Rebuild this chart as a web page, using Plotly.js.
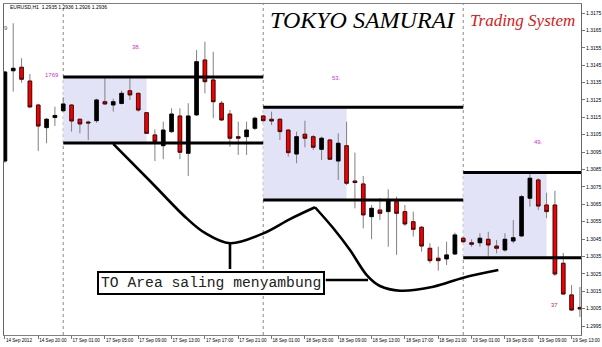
<!DOCTYPE html>
<html><head><meta charset="utf-8">
<script src="https://cdn.plot.ly/plotly-3.0.1.min.js"></script>
<style>html,body{margin:0;padding:0;background:#fff;}#chart{width:602px;height:347px;}</style>
</head><body><div id="chart"></div>
<script>
// EURUSD H1 candles, 14 Sep 2012 16:00 .. 19 Sep 2012 14:00 (one bar per hour, index = bar number)
const opens  = [1.30899,1.31418,1.31438,1.31359,1.31221,1.31091,1.31149,1.31188,1.31221,1.31139,
                1.31123,1.31131,1.31240,1.31221,1.31230,1.31303,1.31288,1.31177,1.31049,1.30987,
                1.31068,1.31158,1.30943,1.31164,1.31480,1.31365,1.31231,1.31169,1.31039,1.31039,
                1.31087,1.31158,1.31139,1.31139,1.31077,1.30939,1.31053,1.31039,1.30966,1.31020,
                1.30899,1.30987,1.30784,1.30767,1.30579,1.30617,1.30608,1.30665,1.30608,1.30550,
                1.30518,1.30397,1.30340,1.30336,1.30364,1.30455,1.30429,1.30429,1.30449,1.30410,
                1.30387,1.30439,1.30468,1.30685,1.30790,1.30646,1.30646,1.30311,1.30129,1.30057];
const highs  = [1.31417,1.31691,1.31490,1.31399,1.31227,1.31146,1.31211,1.31265,1.31227,1.31143,
                1.31131,1.31257,1.31375,1.31257,1.31303,1.31375,1.31293,1.31181,1.31081,1.31125,
                1.31202,1.31202,1.31231,1.31537,1.31585,1.31527,1.31244,1.31192,1.31125,1.31125,
                1.31154,1.31164,1.31183,1.31145,1.31081,1.31068,1.31131,1.31049,1.31039,1.31026,
                1.31058,1.31125,1.30947,1.30813,1.30646,1.30686,1.30736,1.30694,1.30646,1.30608,
                1.30525,1.30426,1.30406,1.30435,1.30487,1.30464,1.30449,1.30483,1.30492,1.30445,
                1.30483,1.30560,1.30704,1.30828,1.30800,1.30717,1.30728,1.30370,1.30186,1.30175];
const lows   = [1.30888,1.31298,1.31349,1.31204,1.30957,1.31001,1.31100,1.31181,1.31068,1.31058,
                1.31020,1.31118,1.31221,1.31183,1.31224,1.31250,1.31183,1.31054,1.30899,1.30909,
                1.31060,1.30909,1.30813,1.31158,1.31288,1.31145,1.31129,1.30981,1.30934,1.30934,
                1.31077,1.31125,1.31106,1.31020,1.30924,1.30886,1.30978,1.30962,1.30905,1.30905,
                1.30790,1.30761,1.30627,1.30512,1.30449,1.30560,1.30406,1.30359,1.30525,1.30464,
                1.30378,1.30311,1.30268,1.30301,1.30359,1.30428,1.30406,1.30406,1.30349,1.30368,
                1.30378,1.30426,1.30462,1.30636,1.30617,1.30570,1.30238,1.30129,1.30037,1.30002];
const closes = [1.31411,1.31432,1.31369,1.31210,1.31100,1.31139,1.31161,1.31227,1.31129,1.31112,
                1.31118,1.31250,1.31227,1.31240,1.31288,1.31279,1.31192,1.31058,1.31010,1.31077,
                1.31169,1.30949,1.31158,1.31470,1.31355,1.31240,1.31135,1.31030,1.31030,1.31077,
                1.31145,1.31131,1.31129,1.31068,1.30947,1.31039,1.31030,1.30978,1.31030,1.30909,
                1.31001,1.30771,1.30775,1.30589,1.30627,1.30598,1.30675,1.30598,1.30537,1.30506,
                1.30410,1.30326,1.30326,1.30359,1.30474,1.30435,1.30420,1.30455,1.30416,1.30397,
                1.30449,1.30458,1.30694,1.30800,1.30640,1.30608,1.30249,1.30134,1.30042,1.30048];

// time axis labels (bar index -> label)
const tickIdx    = [0,4,8,12,16,20,24,28,32,36,40,44,48,52,56,60,64,68];
const tickLabels = ["14 Sep 2012","14 Sep 20:00","17 Sep 01:00","17 Sep 05:00","17 Sep 09:00",
                    "17 Sep 13:00","17 Sep 17:00","17 Sep 21:00","18 Sep 01:00","18 Sep 05:00",
                    "18 Sep 09:00","18 Sep 13:00","18 Sep 17:00","18 Sep 21:00","19 Sep 01:00",
                    "19 Sep 05:00","19 Sep 09:00","19 Sep 13:00"];
const priceTicks = [1.2995,1.3005,1.3015,1.3025,1.3035,1.3045,1.3055,1.3065,1.3075,1.3085,
                    1.3095,1.3105,1.3115,1.3125,1.3135,1.3145,1.3155,1.3165,1.3175];

// day separators (bar index of 00:00)
const daySepIdx = [7,31,55];

// Tokyo session boxes
const boxStart  = [7,31,55];
const boxEnd    = [17,41,65];
const lineEnd   = [31,55,70];
const boxHigh   = [1.31382,1.31208,1.30833];
const boxLow    = [1.31002,1.30675,1.30343];
const boxLabels = ["38.","53.","49."];
const boxLabelX = [15.85,39.85,63.97];
const boxLabelY = [1.31556,1.31375,1.31007];

// hand drawn annotation curves
const curveAx = [13.0,17.41,21.82,24.01,27.01,31.01,34.21,37.21];
const curveAy = [1.30997,1.30784,1.30569,1.30485,1.30426,1.30483,1.30565,1.30633];
const curveBx = [37.21,39.41,41.41,43.42,45.01,47.41,51.41,55.01,59.21];
const curveBy = [1.30633,1.30512,1.30387,1.30243,1.30180,1.30153,1.30176,1.30228,1.30272];
const link1x = [27.01,27.01], link1y = [1.30426,1.30278];
const link2x = [38.5,43.57],  link2y = [1.30215,1.30215];
const noteText = "TO Area saling menyambung";
const noteX = 24.79, noteY = 1.30200;

const xs = opens.map((_, i) => i);
const bodyHi = opens.map((o, i) => Math.max(o, closes[i]));
const bodyLo = opens.map((o, i) => Math.min(o, closes[i]));

const RED = '#f00000';
const traces = [
  {type:'candlestick', x:xs, open:opens, high:highs, low:lows, close:closes,
   increasing:{line:{color:'#808080',width:1}, fillcolor:'#000'},
   decreasing:{line:{color:'#808080',width:1}, fillcolor:RED},
   whiskerwidth:0, hoverinfo:'skip', showlegend:false},
  {type:'candlestick', x:xs, open:opens, high:bodyHi, low:bodyLo, close:closes,
   increasing:{line:{color:'#000',width:0.8}, fillcolor:'#000'},
   decreasing:{line:{color:'#3a0000',width:0.8}, fillcolor:RED},
   whiskerwidth:0, hoverinfo:'skip', showlegend:false}
];
[[curveAx,curveAy,'spline'],[curveBx,curveBy,'spline'],[link1x,link1y,'linear'],[link2x,link2y,'linear']].forEach(c => {
  traces.push({type:'scatter', mode:'lines', x:c[0], y:c[1],
    line:{color:'#000', width:2.6, shape:c[2], smoothing:1}, hoverinfo:'skip', showlegend:false});
});

const shapes = [];
daySepIdx.forEach(d => shapes.push({type:'line', xref:'x', yref:'paper', x0:d, x1:d, y0:0, y1:1,
  line:{color:'#8a8a8a', width:1, dash:'dot'}, layer:'below'}));
boxStart.forEach((s, k) => {
  shapes.push({type:'rect', xref:'x', yref:'y', x0:s, x1:boxEnd[k], y0:boxLow[k], y1:boxHigh[k],
    fillcolor:'#e3e3f8', line:{width:0}, layer:'below'});
  [boxHigh[k], boxLow[k]].forEach(p => shapes.push({type:'line', xref:'x', yref:'y', x0:s, x1:lineEnd[k], y0:p, y1:p,
    line:{color:'#000', width:3}, layer:'above'}));
});

const small = {family:'Liberation Sans, Arial, sans-serif', size:5, color:'#000'};
const annotations = [
  {xref:'paper', yref:'paper', x:0.007, y:0.991, xanchor:'left', yanchor:'middle', showarrow:false,
   text:'EURUSD,H1  1.2935 1.2936 1.2926 1.2936', font:small},
  {xref:'paper', yref:'paper', x:-0.003, y:0.927, xanchor:'left', yanchor:'middle', showarrow:false,
   text:'9', font:{family:'Liberation Sans, Arial, sans-serif', size:6, color:'#555'}},
  {xref:'x', yref:'y', x:6.7, y:1.31395, xanchor:'right', yanchor:'middle', showarrow:false,
   text:'1769', font:{family:'Liberation Sans, Arial, sans-serif', size:6, color:'#cc33cc'}},
  {xref:'x', yref:'y', x:66.0, y:1.30071, xanchor:'center', yanchor:'middle', showarrow:false,
   text:'37', font:{family:'Liberation Sans, Arial, sans-serif', size:6, color:'#c03030'}},
  {xref:'paper', yref:'paper', x:0.4575, y:0.952, xanchor:'left', yanchor:'middle', showarrow:false,
   text:'<i>TOKYO SAMURAI</i>', font:{family:'Liberation Serif, serif', size:24, color:'#000'}},
  {xref:'paper', yref:'paper', x:0.8042, y:0.949, xanchor:'left', yanchor:'middle', showarrow:false,
   text:'<i>Trading System</i>', font:{family:'Liberation Serif, serif', size:17, color:'#d42020'}},
  {xref:'x', yref:'y', x:noteX, y:noteY, xanchor:'center', yanchor:'middle', showarrow:false,
   text:noteText, font:{family:'Liberation Mono, monospace', size:14.7, color:'#222'},
   bgcolor:'#fff', bordercolor:'#000', borderwidth:2, borderpad:2}
];
boxLabels.forEach((t, k) => annotations.push({xref:'x', yref:'y', x:boxLabelX[k], y:boxLabelY[k],
  xanchor:'center', yanchor:'middle', showarrow:false, text:t,
  font:{family:'Liberation Sans, Arial, sans-serif', size:6, color:'#cc33cc'}}));

const layout = {
  width:602, height:347,
  margin:{l:4, r:21, t:4, b:12, pad:0},
  paper_bgcolor:'#fff', plot_bgcolor:'#fff',
  showlegend:false, hovermode:false,
  boxgap:0.38,
  xaxis:{range:[-0.108,69.13], tickmode:'array', tickvals:tickIdx, ticktext:tickLabels, tickangle:0,
    ticks:'outside', ticklen:3, tickcolor:'#777', tickfont:{family:'Liberation Sans, Arial, sans-serif', size:4.6, color:'#000'},
    ticklabelposition:'outside right', ticklabelstandoff:0,
    showline:true, linecolor:'#808080', linewidth:1, mirror:true, showgrid:false, zeroline:false,
    rangeslider:{visible:false}, automargin:false, fixedrange:true},
  yaxis:{range:[1.298984,1.318018], side:'right', tickmode:'array', tickvals:priceTicks, tickformat:'.4f',
    ticks:'outside', ticklen:3, tickcolor:'#777', tickfont:small,
    showline:true, linecolor:'#666', linewidth:1, mirror:true, showgrid:false, zeroline:false,
    automargin:false, fixedrange:true},
  shapes:shapes, annotations:annotations
};
Plotly.newPlot('chart', traces, layout, {staticPlot:true, displayModeBar:false});
</script></body></html>
